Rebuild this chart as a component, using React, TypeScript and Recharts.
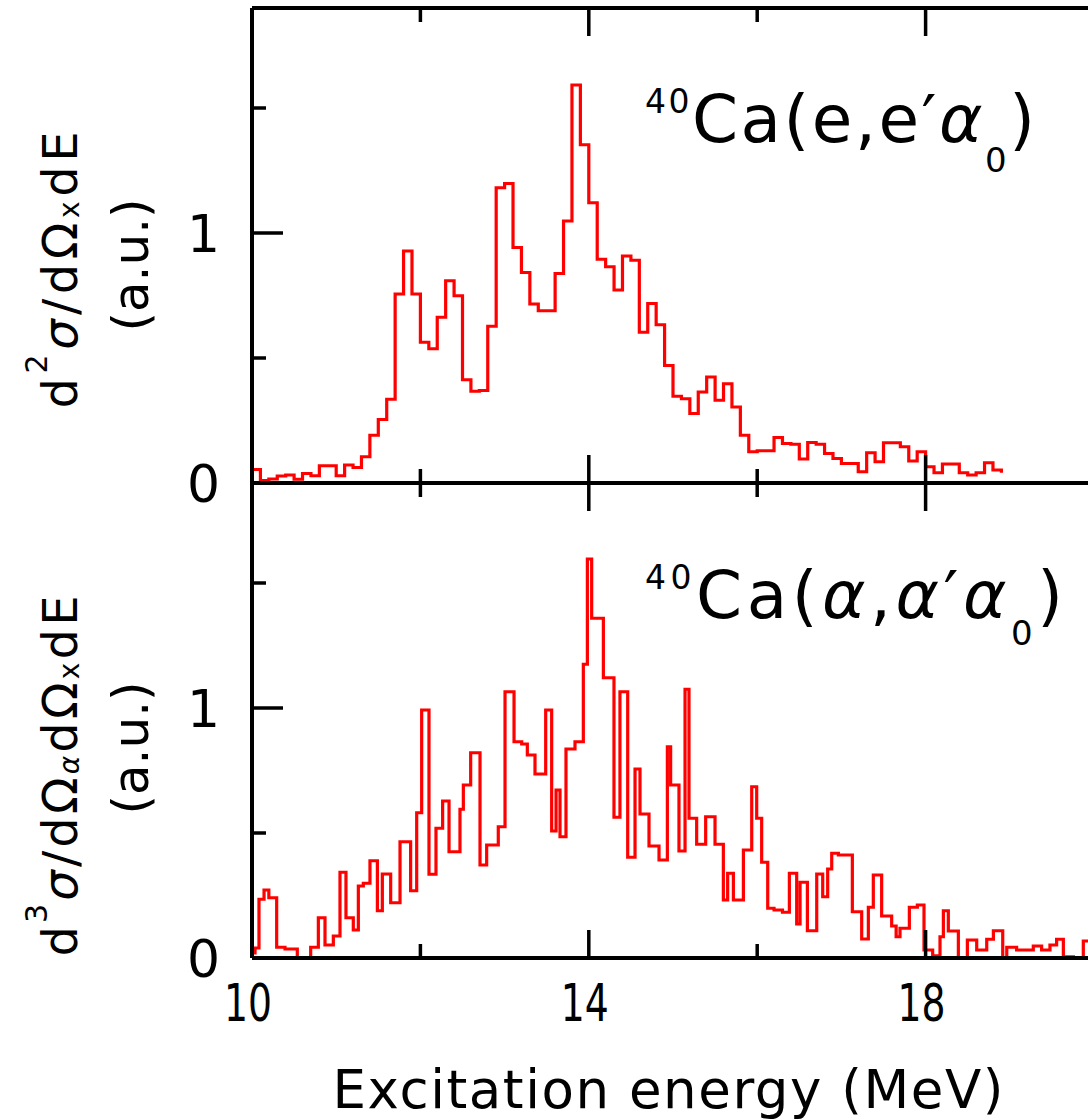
import { LineChart, Line, XAxis, YAxis } from "recharts";

// 40Ca(e,e'a0): 0.1 MeV bins, centres from 10.0 MeV
const eValues = [
  0.054, 0.01, 0.016, 0.028, 0.032, 0.015, 0.038, 0.029, 0.069, 0.069,
  0.029, 0.072, 0.062, 0.105, 0.191, 0.254, 0.335, 0.756, 0.928, 0.756,
  0.563, 0.537, 0.663, 0.809, 0.749, 0.413, 0.367, 0.37, 0.627, 1.181,
  1.198, 0.942, 0.842, 0.716, 0.689, 0.689, 0.838, 1.048, 1.592, 1.353,
  1.121, 0.895, 0.865, 0.772, 0.908, 0.891, 0.603, 0.718, 0.633, 0.47,
  0.347, 0.337, 0.278, 0.364, 0.424, 0.331, 0.397, 0.304, 0.191, 0.125,
  0.129, 0.129, 0.182, 0.158, 0.155, 0.096, 0.162, 0.155, 0.118, 0.098,
  0.078, 0.078, 0.045, 0.121, 0.085, 0.161, 0.161, 0.145, 0.088, 0.125,
  0.065, 0.041, 0.076, 0.076, 0.041, 0.032, 0.041, 0.081, 0.052, 0.041,
];
const eEnergy = eValues.map((_, i) => Math.round((10 + 0.1 * i) * 10) / 10);

// 40Ca(a,a'a0): uneven bins, left edges (last entry closes the final bin)
const alphaEdges = [
  10.0, 10.036, 10.083, 10.143, 10.2, 10.293, 10.392, 10.538, 10.697, 10.788,
  10.867, 10.966, 11.045, 11.116, 11.203, 11.263, 11.322, 11.401, 11.489, 11.548,
  11.647, 11.758, 11.884, 11.956, 12.015, 12.102, 12.185, 12.264, 12.34, 12.47,
  12.51, 12.597, 12.708, 12.787, 12.925, 13.005, 13.112, 13.203, 13.27, 13.361,
  13.488, 13.559, 13.611, 13.658, 13.729, 13.836, 13.935, 13.983, 14.034, 14.173,
  14.299, 14.37, 14.462, 14.549, 14.608, 14.715, 14.834, 14.933, 14.972, 15.071,
  15.143, 15.19, 15.281, 15.388, 15.499, 15.598, 15.649, 15.717, 15.836, 15.935,
  15.994, 16.053, 16.125, 16.2, 16.3, 16.382, 16.469, 16.509, 16.596, 16.707,
  16.778, 16.837, 16.885, 16.964, 17.13, 17.241, 17.32, 17.379, 17.478, 17.597,
  17.65, 17.696, 17.807, 17.902, 17.981, 18.084, 18.171, 18.211, 18.27, 18.389,
  18.496, 18.607, 18.726, 18.805, 18.916, 18.964, 19.081, 19.279, 19.378, 19.477,
  19.556, 19.636, 19.755, 19.873, 20.0,
];
const alphaValues = [
  0.02, 0.04, 0.235, 0.272, 0.241, 0.043, 0.036, 0.0, 0.043, 0.161,
  0.052, 0.088, 0.343, 0.161, 0.112, 0.288, 0.299, 0.389, 0.189, 0.336,
  0.221, 0.465, 0.269, 0.581, 0.992, 0.335, 0.519, 0.628, 0.425, 0.595,
  0.692, 0.821, 0.372, 0.452, 0.525, 1.065, 0.865, 0.856, 0.812, 0.736,
  0.992, 0.508, 0.672, 0.485, 0.836, 0.865, 1.175, 1.596, 1.359, 1.121,
  0.563, 1.065, 0.403, 0.756, 0.576, 0.448, 0.392, 0.845, 0.692, 0.428,
  1.075, 0.559, 0.455, 0.565, 0.455, 0.232, 0.339, 0.232, 0.432, 0.685,
  0.559, 0.383, 0.199, 0.192, 0.183, 0.339, 0.136, 0.303, 0.109, 0.336,
  0.245, 0.356, 0.419, 0.412, 0.185, 0.076, 0.203, 0.332, 0.168, 0.128,
  0.085, 0.119, 0.203, 0.212, 0.032, 0.009, 0.085, 0.189, 0.108, 0.0,
  0.072, 0.032, 0.075, 0.109, 0.0, 0.043, 0.032, 0.048, 0.032, 0.052,
  0.075, 0.005, 0.001, 0.068, 0.068,
];

const xTicks = [10, 12, 14, 16, 18, 20];
const xMajor = [10, 14, 18];
const xLabels = [10, 14, 18];
const yTicks = [0, 0.5, 1, 1.5];
const yMajor = [1];
const yLabels = [0, 1];

const topData = eValues.map((v, i) => ({ x: eEnergy[i], y: v }));
const bottomData = alphaValues.map((v, i) => ({ x: alphaEdges[i], y: v }));

const FONT = "'DejaVu Sans', sans-serif";
// each chart is shifted by OFF so the axes get real room outside the page
const OFF = 100;
const W = 1300;
const H = 1320;
const AX = 40; // axis band size
const PLOT_L = 252;
const PLOT_R = 1094;
const frame = { stroke: "#000", strokeWidth: 4 };

// ticks point into the plot; dir = +1 (down/right) or -1 (up/left)
const xTick = (dir: number, withLabel: boolean) => (props: any) => {
  const { x, y, payload } = props;
  const v = payload.value;
  const len = xMajor.includes(v) ? 28 : 14;
  return (
    <g>
      <line x1={x} x2={x} y1={y} y2={y + dir * len} stroke="#000" strokeWidth={3.5} />
      {withLabel && xLabels.includes(v) && (
        <text x={x - 4} y={y + 63} textAnchor="middle" fontSize={52} fontFamily={FONT} fill="#000" textLength={48} lengthAdjust="spacingAndGlyphs">
          {v}
        </text>
      )}
    </g>
  );
};

const yTick = (dir: number, withLabel: boolean, labels: number[]) => (props: any) => {
  const { x, y, payload } = props;
  const v = payload.value;
  const len = v === 0 ? 0 : yMajor.includes(v) ? 31 : 14;
  return (
    <g>
      {len > 0 && <line x1={x} x2={x + dir * len} y1={y} y2={y} stroke="#000" strokeWidth={3.5} />}
      {withLabel && labels.includes(v) && (
        <text x={x - 32} y={y + 19} textAnchor="end" fontSize={52} fontFamily={FONT} fill="#000">
          {v}
        </text>
      )}
    </g>
  );
};

const TopTexts = () => (
  <g fontFamily={FONT} fill="#000" transform={`translate(${OFF} ${OFF})`}>
    <text transform="translate(77 270) rotate(-90)" textAnchor="middle" fontSize={48} textLength={277} lengthAdjust="spacing">
      d<tspan dy={-30} fontSize={30}>2</tspan>
      <tspan dy={30} fontStyle="italic">σ</tspan>/dΩ<tspan dy={2} fontSize={28}>x</tspan>
      <tspan dy={-2}>dE</tspan>
    </text>
    <text transform="translate(148 265) rotate(-90)" textAnchor="middle" fontSize={50}>
      (a.u.)
    </text>
    <text x={645} y={142} fontSize={66} textLength={390} lengthAdjust="spacing">
      <tspan fontSize={33} dy={-29}>40</tspan>
      <tspan dy={29}>Ca(e,e′</tspan>
      <tspan fontStyle="italic">α</tspan>
      <tspan fontSize={34} dy={30}>0</tspan>
      <tspan dy={-30}>)</tspan>
    </text>
  </g>
);

const BottomTexts = () => (
  <g fontFamily={FONT} fill="#000" transform={`translate(${OFF} ${OFF})`}>
    <text transform="translate(77 776) rotate(-90)" textAnchor="middle" fontSize={48} textLength={361} lengthAdjust="spacing">
      d<tspan dy={-30} fontSize={30}>3</tspan>
      <tspan dy={30} fontStyle="italic">σ</tspan>/dΩ<tspan dy={2} fontSize={28} fontStyle="italic">α</tspan>
      <tspan dy={-2}>dΩ</tspan>
      <tspan dy={2} fontSize={28}>x</tspan>
      <tspan dy={-2}>dE</tspan>
    </text>
    <text transform="translate(148 748) rotate(-90)" textAnchor="middle" fontSize={50}>
      (a.u.)
    </text>
    <text x={645} y={618} fontSize={66} textLength={418} lengthAdjust="spacing">
      <tspan fontSize={33} dy={-29}>40</tspan>
      <tspan dy={29}>Ca(</tspan>
      <tspan fontStyle="italic">α</tspan>,<tspan fontStyle="italic">α</tspan>′<tspan fontStyle="italic">α</tspan>
      <tspan fontSize={34} dy={27}>0</tspan>
      <tspan dy={-27}>)</tspan>
    </text>
    <text x={668} y={1108} textAnchor="middle" fontSize={53} textLength={671} lengthAdjust="spacing">
      Excitation  energy  (MeV)
    </text>
  </g>
);

function Panel({ data, top, bottom, showX, texts }: any) {
  const margin = {
    top: top + OFF - AX,
    bottom: H - (bottom + OFF) - AX,
    left: PLOT_L + OFF - AX,
    right: W - (PLOT_R + OFF) - AX,
  };
  return (
    <div style={{ position: "absolute", left: -OFF, top: -OFF }}>
      <LineChart width={W} height={H} data={data} margin={margin}>
        <XAxis xAxisId="b" type="number" dataKey="x" domain={[10, 20]} ticks={xTicks} interval={0} orientation="bottom" height={AX} tickSize={0} tickMargin={0} tickLine={false} axisLine={frame} tick={xTick(-1, showX)} />
        <XAxis xAxisId="t" type="number" dataKey="x" domain={[10, 20]} ticks={xTicks} interval={0} orientation="top" height={AX} tickSize={0} tickMargin={0} tickLine={false} axisLine={frame} tick={xTick(1, false)} />
        <YAxis yAxisId="l" type="number" domain={[0, 1.9]} ticks={yTicks} interval={0} width={AX} tickSize={0} tickMargin={0} tickLine={false} axisLine={frame} tick={yTick(1, true, yLabels)} label={texts} />
        <YAxis yAxisId="r" orientation="right" type="number" domain={[0, 1.9]} ticks={yTicks} interval={0} width={AX} tickSize={0} tickMargin={0} tickLine={false} axisLine={frame} tick={yTick(-1, false, [])} />
        <Line xAxisId="b" yAxisId="l" type="stepAfter" dataKey="y" stroke="#ff0000" strokeWidth={3.2} dot={false} isAnimationActive={false} />
      </LineChart>
    </div>
  );
}

export default function App() {
  return (
    <div style={{ position: "fixed", left: 0, top: 0, width: 1088, height: 1120, overflow: "hidden", background: "#fff" }}>
      <Panel data={topData} top={8} bottom={483} showX={false} texts={TopTexts} />
      <Panel data={bottomData} top={483} bottom={958} showX={true} texts={BottomTexts} />
    </div>
  );
}
